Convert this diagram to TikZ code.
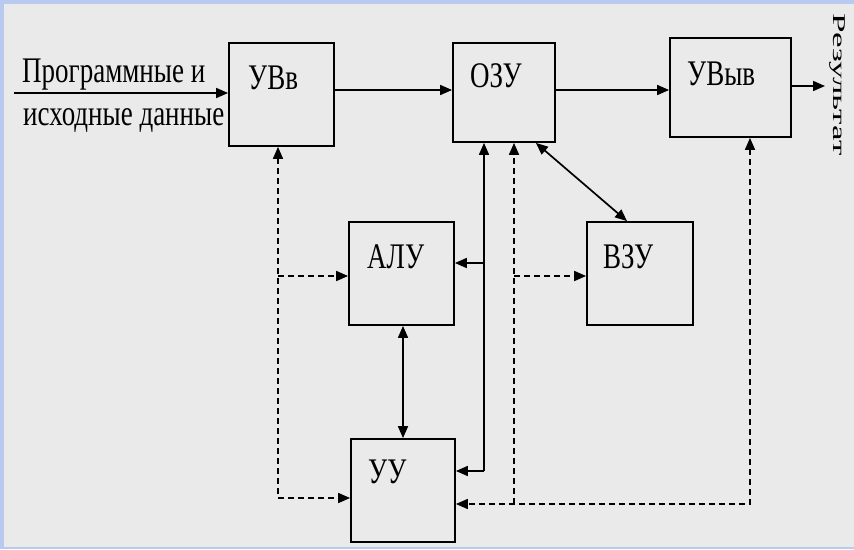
\documentclass[tikz,border=0pt]{standalone}
\usepackage{fontspec}
\setmainfont{Liberation Serif}
\newfontfamily\blokfont[FakeStretch=0.75]{Liberation Serif}
\newfontfamily\rezfont[FakeStretch=1.95]{Liberation Serif}
\usetikzlibrary{arrows.meta}
\definecolor{fon}{RGB}{184,202,240}
\definecolor{panel}{RGB}{234,234,234}

\begin{document}
\begin{tikzpicture}[x=1pt, y=-1pt, >={Triangle[length=12pt,width=10pt]},
    blok/.style={draw, line width=1.8pt, inner sep=0pt},
    txt/.style={inner sep=0pt, anchor=base west, font=\blokfont\fontsize{36}{40}\selectfont},
    link/.style={line width=1.7pt},
    dlink/.style={line width=1.7pt, dash pattern=on 6pt off 4pt}]
    \useasboundingbox (0,0) rectangle (854,549);
    \fill[fon] (0,0) rectangle (854,549);
    \fill[panel] (4,4) rectangle (854,547);

    % blocks
    \node (uvv)  [blok, minimum width=105, minimum height=103] at (281.5,94.5) {};
    \node (ozu)  [blok, minimum width=102, minimum height=99]  at (504,92.5) {};
    \node (uvyv) [blok, minimum width=121, minimum height=99]  at (730.5,87.5) {};
    \node (alu)  [blok, minimum width=105, minimum height=103] at (401.5,273.5) {};
    \node (vzu)  [blok, minimum width=106, minimum height=103] at (640,273.5) {};
    \node (uu)   [blok, minimum width=104, minimum height=103] at (403,490.5) {};

    % labels
    \node (uvvT)  [txt] at (248,89)  {УВв};
    \node (ozuT)  [txt] at (470,87)  {ОЗУ};
    \node (uvyvT) [txt] at (687,85)  {УВыв};
    \node (aluT)  [txt] at (367,268) {АЛУ};
    \node (vzuT)  [txt] at (603,268) {ВЗУ};
    \node (uuT)   [txt] at (368,483) {УУ};
    \node (inT1)  [txt] at (22,82)   {Программные и};
    \node (inT2)  [txt] at (23,125)  {исходные данные};
    \node (outT)  [inner sep=0pt, anchor=base west, rotate=-90,
                   font=\rezfont\fontsize{18}{22}\selectfont] at (833,13) {Результат};

    % main data path
    \coordinate (in)  at (14,93);
    \coordinate (out) at (825,86);
    \coordinate (h1)  at (0,90);
    \draw[link,->] (in) -- (in -| uvv.west);
    \draw[link,->] (uvv.east |- h1) -- (ozu.west |- h1);
    \draw[link,->] (ozu.east |- h1) -- (uvyv.west |- h1);
    \draw[link,->] (uvyv.east |- out) -- (out);

    % solid links
    \coordinate (mb) at (484,471);
    \coordinate (ma) at (484,263);
    \draw[link,->] (mb) -- (mb -| uu.east);
    \draw[link,->] (mb) -- (mb |- ozu.south);
    \draw[link,->] (ma) -- (ma -| alu.east);
    \draw[link,<->] (alu.south -| uu.north) -- (uu.north);
    \draw[link,<->] ([xshift=-20pt]ozu.south east) -- ([xshift=-13pt]vzu.north);

    % control links (dashed)
    \coordinate (lb) at (278,498);
    \coordinate (la) at (278,276);
    \draw[dlink,<->] (uvv.south -| lb) -- (lb) -- (lb -| uu.west);
    \draw[dlink,->] (la) -- (la -| alu.west);
    \coordinate (rb) at (514,504);
    \coordinate (rr) at (750,504);
    \coordinate (rv) at (514,276);
    \draw[dlink,<->] (rr |- uvyv.south) -- (rr) -- (rb -| uu.east);
    \draw[dlink,->] (rb) -- (rb |- ozu.south);
    \draw[dlink,->] (rv) -- (rv -| vzu.west);
\end{tikzpicture}
\end{document}
